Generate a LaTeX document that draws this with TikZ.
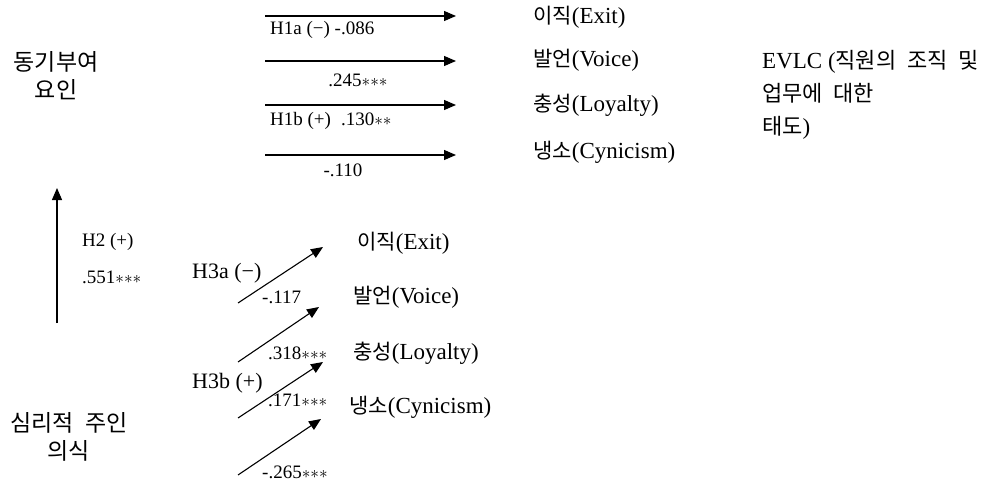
\documentclass[tikz,border=0pt]{standalone}
\usepackage{fontspec}
\setmainfont{Liberation Serif}
\newfontfamily\krfont{Noto Sans CJK KR}
\newfontfamily\krwide[WordSpace=2.2]{Noto Sans CJK KR}
\newcommand\kor[1]{{\krfont\fontsize{21}{24}\selectfont #1}}
\newcommand\kob[1]{{\krwide\fontsize{22}{24}\selectfont #1}}
\newcommand\sstar{\ensuremath{{\ast}}}
\usetikzlibrary{arrows.meta}
\begin{document}
\begin{tikzpicture}[x=1pt,y=-1pt,
 arr/.style={line width=1.1pt,-{Triangle[length=12pt,width=10pt]}},
 lab/.style={inner sep=0pt,anchor=west,font=\fontsize{19}{21}\selectfont},
 labc/.style={inner sep=0pt,font=\fontsize{19}{21}\selectfont},
 hyp/.style={inner sep=0pt,anchor=west,font=\fontsize{22}{24}\selectfont},
 outc/.style={inner sep=0pt,anchor=west,font=\fontsize{23}{26}\selectfont},
 big/.style={inner sep=0pt,align=center,font=\krwide\fontsize{23}{28}\selectfont}]
\useasboundingbox (0,0) rectangle (995,481);

% constructs
\node[big] (motiv) at (56,76) {동기부여\\요인};
\node[big] (psych) at (69,437) {심리적 주인\\의식};
\node[inner sep=0pt,anchor=north west,align=left,font=\fontsize{23}{33}\selectfont] (evlc) at (762,50)
  {EVLC (\kob{직원의 조직 및}\\\kob{업무에 대한}\\\kob{태도})};

% top outcomes
\node[outc] (te) at (533,17) {\kor{이직}(Exit)};
\node[outc] (tv) at (533,60) {\kor{발언}(Voice)};
\node[outc] (tl) at (533,105) {\kor{충성}(Loyalty)};
\node[outc] (tc) at (533,152) {\kor{냉소}(Cynicism)};

% lower outcomes
\node[outc] (le) at (357,243) {\kor{이직}(Exit)};
\node[outc] (lv) at (353,297) {\kor{발언}(Voice)};
\node[outc] (ll) at (353,353) {\kor{충성}(Loyalty)};
\node[outc] (lc) at (349,407) {\kor{냉소}(Cynicism)};

% top arrows
\coordinate (t1s) at (265,16);  \coordinate (t1e) at (456,16);
\coordinate (t2s) at (265,61);  \coordinate (t2e) at (456,61);
\coordinate (t3s) at (265,105); \coordinate (t3e) at (456,105);
\coordinate (t4s) at (265,155); \coordinate (t4e) at (456,155);
\draw[arr] (t1s) -- (t1e);
\draw[arr] (t2s) -- (t2e);
\draw[arr] (t3s) -- (t3e);
\draw[arr] (t4s) -- (t4e);

\node[lab] (h1a) at (270,30) {H1a (−) -.086};
\node[labc] (c245) at (358,80) {.245\sstar\sstar\sstar};
\node[lab] (h1b) at (270,121) {H1b (+)\hspace{10pt}.130\sstar\sstar};
\node[labc] (c110) at (343,170) {-.110};

% vertical arrow
\coordinate (vs) at (57,323); \coordinate (ve) at (57,188);
\draw[arr] (vs) -- (ve);
\node[lab] (h2) at (82,242) {H2 (+)};
\node[lab] (c551) at (82,277) {.551\sstar\sstar\sstar};

% diagonal arrows
\coordinate (d1s) at (238,303); \coordinate (d1e) at (323,247);
\coordinate (d2s) at (238,362); \coordinate (d2e) at (319,307);
\coordinate (d3s) at (238,418); \coordinate (d3e) at (323,362);
\coordinate (d4s) at (238,475); \coordinate (d4e) at (321,419);
\draw[arr] (d1s) -- (d1e);
\draw[arr] (d2s) -- (d2e);
\draw[arr] (d3s) -- (d3e);
\draw[arr] (d4s) -- (d4e);

\node[hyp] (h3a) at (192,273) {H3a (−)};
\node[lab] (c117) at (262,297) {-.117};
\node[lab] (c318) at (268,353) {.318\sstar\sstar\sstar};
\node[hyp] (h3b) at (192,383) {H3b (+)};
\node[lab] (c171) at (268,400) {.171\sstar\sstar\sstar};
\node[lab] (c265) at (262,472) {-.265\sstar\sstar\sstar};
\end{tikzpicture}
\end{document}
